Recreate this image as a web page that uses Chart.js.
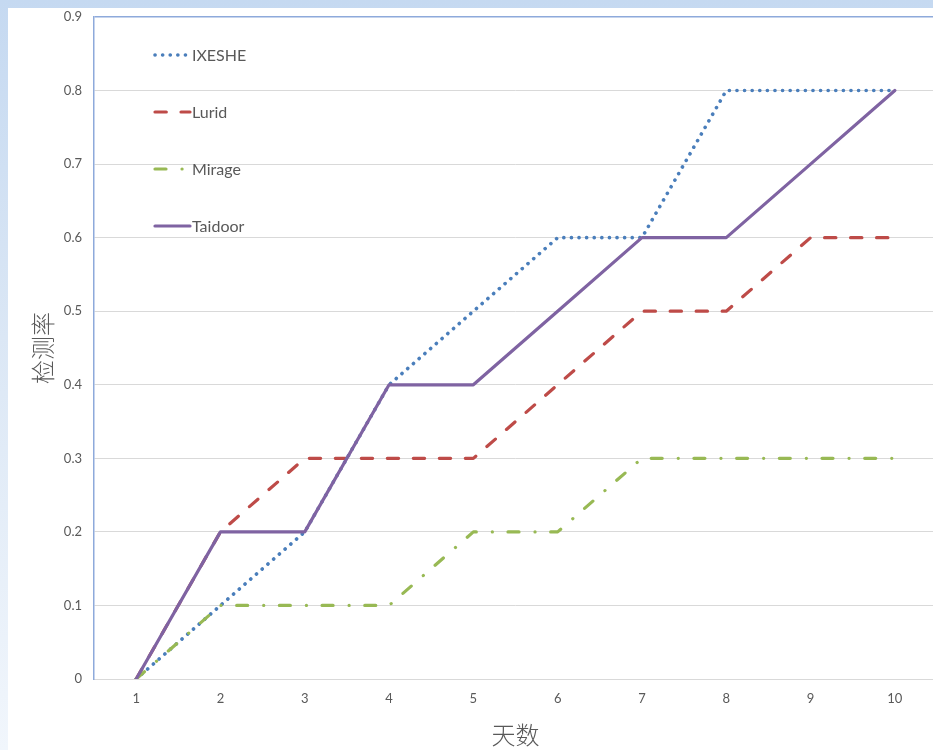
<!DOCTYPE html>
<html>
<head>
<meta charset="utf-8">
<script src="https://cdn.jsdelivr.net/npm/chart.js@4/dist/chart.umd.min.js"></script>
<style>
  html, body { margin: 0; padding: 0; width: 933px; height: 750px; overflow: hidden; }
  body { background: linear-gradient(to bottom, #c5d9f1 0%, #dbe7f5 45%, #f1f6fc 100%); position: relative; }
  #panel { position: absolute; left: 8px; top: 8px; width: 935px; height: 742px; background: #ffffff; }
  canvas { display: block; }
</style>
</head>
<body>
<div id="panel"><canvas id="chart" width="935" height="742"></canvas></div>
<script>
// Days on the x axis
const days = ['1', '2', '3', '4', '5', '6', '7', '8', '9', '10'];

// Detection rate per malware family
const ixesheRate  = [0, 0.1, 0.2, 0.4, 0.5, 0.6, 0.6, 0.8, 0.8, 0.8];
const luridRate   = [0, 0.2, 0.3, 0.3, 0.3, 0.4, 0.5, 0.5, 0.6, 0.6];
const mirageRate  = [0, 0.1, 0.1, 0.1, 0.2, 0.2, 0.3, 0.3, 0.3, 0.3];
const taidoorRate = [0, 0.2, 0.2, 0.4, 0.4, 0.5, 0.6, 0.6, 0.7, 0.8];

const seriesNames = ['IXESHE', 'Lurid', 'Mirage', 'Taidoor'];

const yTitle = '检测率';
const xTitle = '天数';

const TEXT = '#595959';
const GRID = '#d9d9d9';
const FRAME = '#8eaadb';

// Legend drawn inside the plot area, top-left
const insideLegend = {
  id: 'insideLegend',
  afterDatasetsDraw(chart) {
    const { ctx, chartArea } = chart;
    const x0 = chartArea.left + 61;
    const x1 = chartArea.left + 96;
    chart.data.datasets.forEach((ds, i) => {
      const y = chartArea.top + 38 + i * 57;
      ctx.save();
      ctx.strokeStyle = ds.borderColor;
      ctx.lineWidth = ds.borderWidth;
      ctx.lineCap = ds.borderCapStyle || 'butt';
      ctx.setLineDash(ds.borderDash || []);
      ctx.beginPath();
      ctx.moveTo(x0, y);
      ctx.lineTo(x1, y);
      ctx.stroke();
      ctx.setLineDash([]);
      ctx.fillStyle = TEXT;
      ctx.font = '16px Lato';
      ctx.textBaseline = 'middle';
      ctx.textAlign = 'left';
      ctx.fillText(ds.label, x1 + 2, y + 1);
      ctx.restore();
    });
  }
};

new Chart(document.getElementById('chart'), {
  type: 'line',
  data: {
    labels: days,
    datasets: [
      { label: seriesNames[0], data: ixesheRate, borderColor: '#4a7ebb', borderWidth: 3.6,
        borderDash: [0.1, 7.5], borderCapStyle: 'round', order: 3 },
      { label: seriesNames[1], data: luridRate, borderColor: '#be4b48', borderWidth: 3.2,
        borderDash: [11.3, 14.7], borderCapStyle: 'round', order: 2 },
      { label: seriesNames[2], data: mirageRate, borderColor: '#98b954', borderWidth: 3.2,
        borderDash: [11, 16, 0.1, 15.6], borderCapStyle: 'round', order: 1 },
      { label: seriesNames[3], data: taidoorRate, borderColor: '#7f63a2', borderWidth: 3.2,
        borderCapStyle: 'round', order: 0 }
    ].map(d => Object.assign({ pointRadius: 0, pointHoverRadius: 0, tension: 0, fill: false,
                               borderJoinStyle: 'round' }, d))
  },
  options: {
    responsive: false,
    animation: false,
    devicePixelRatio: 1,
    layout: { padding: { top: 9, right: 6, left: 0, bottom: 0 } },
    plugins: { legend: { display: false }, tooltip: { enabled: false } },
    scales: {
      x: {
        offset: true,
        grid: { display: false, drawTicks: false },
        border: { color: GRID, width: 1 },
        ticks: { color: TEXT, font: { family: 'Lato', size: 13 }, padding: 12, maxRotation: 0 },
        title: { display: true, text: xTitle, color: TEXT,
                 font: { family: '"Noto Sans CJK SC"', size: 24, weight: '300' },
                 padding: { top: 0, bottom: 1 } },
        afterFit(scale) { scale.height = 71; }
      },
      y: {
        min: 0, max: 0.9,
        grid: {
          drawTicks: true,
          tickLength: 12,
          tickColor: 'rgba(0,0,0,0)',
          color: c => (c.tick && Math.abs(c.tick.value - 0.9) < 1e-6) ? FRAME : GRID,
          lineWidth: c => (c.tick && Math.abs(c.tick.value - 0.9) < 1e-6) ? 1.5 : 1
        },
        border: { color: FRAME, width: 1.5 },
        ticks: {
          stepSize: 0.1, color: TEXT, font: { family: 'Lato', size: 13 }, padding: 0,
          callback: v => { const r = Math.round(v * 10) / 10; return r === 0 ? '0' : r.toFixed(1); }
        },
        title: { display: true, text: yTitle, color: TEXT,
                 font: { family: '"Noto Sans CJK SC"', size: 24, weight: '300' },
                 padding: { top: 20, bottom: 0 } },
        afterFit(scale) { scale.width = 86; }
      }
    }
  },
  plugins: [insideLegend]
});
</script>
</body>
</html>
